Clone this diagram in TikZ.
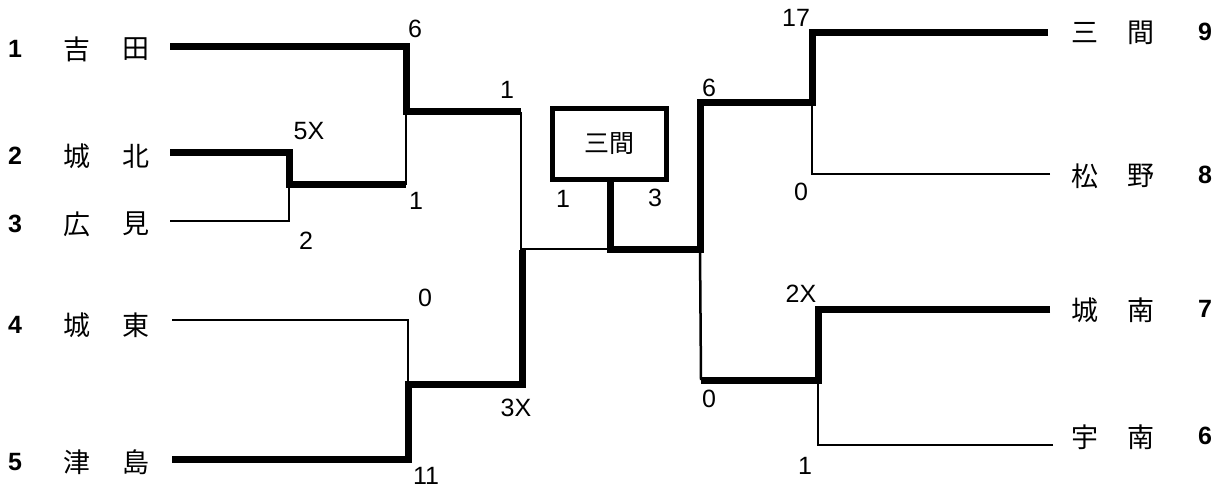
\documentclass[tikz,border=0pt]{standalone}
\usepackage{fontspec}
\setmainfont{Liberation Sans}
\newfontfamily\cjk{Noto Sans CJK JP}
\begin{document}
\begin{tikzpicture}[x=1pt,y=-1pt,
  win/.style={line width=7pt,line join=miter},
  lose/.style={line width=2.5pt,line join=miter},
  seed/.style={font=\bfseries\fontsize{25}{27}\selectfont,inner sep=0pt},
  kanji/.style={font=\cjk\fontsize{27}{29}\selectfont,inner sep=0pt},
  score/.style={font=\fontsize{25}{27}\selectfont,inner sep=0pt},
  champ/.style={draw,line width=5pt,minimum width=114pt,minimum height=71pt,inner sep=0pt,font=\cjk\fontsize{25}{27}\selectfont}]
\useasboundingbox (0,0) rectangle (1231,489);
% left teams
\node[seed] (n1) at (15,49) {1};
\node[kanji] (a1) at (77,49) {吉}; \node[kanji] (b1) at (136,49) {田};
\node[seed] (n2) at (15,156) {2};
\node[kanji] (a2) at (77,156) {城}; \node[kanji] (b2) at (136,156) {北};
\node[seed] (n3) at (15,224) {3};
\node[kanji] (a3) at (77,224) {広}; \node[kanji] (b3) at (136,224) {見};
\node[seed] (n4) at (15,325) {4};
\node[kanji] (a4) at (77,325) {城}; \node[kanji] (b4) at (136,325) {東};
\node[seed] (n5) at (15,462) {5};
\node[kanji] (a5) at (77,462) {津}; \node[kanji] (b5) at (136,462) {島};
% right teams
\node[kanji] (a9) at (1085,33) {三}; \node[kanji] (b9) at (1141,33) {間}; \node[seed] (n9) at (1205,32) {9};
\node[kanji] (a8) at (1085,176) {松}; \node[kanji] (b8) at (1141,176) {野}; \node[seed] (n8) at (1205,175) {8};
\node[kanji] (a7) at (1085,310) {城}; \node[kanji] (b7) at (1141,310) {南}; \node[seed] (n7) at (1205,309) {7};
\node[kanji] (a6) at (1085,437) {宇}; \node[kanji] (b6) at (1141,437) {南}; \node[seed] (n6) at (1205,436) {6};
% champion box
\node[champ] (box) at (609,144) {三間};
% line start coordinates
\coordinate (s1) at (170,47);
\coordinate (s2) at (170,153);
\coordinate (s3) at (170,221);
\coordinate (s4) at (172,320);
\coordinate (s5) at (172,459);
\coordinate (s9) at (1048,33);
\coordinate (s8) at (1050,174);
\coordinate (s7) at (1050,309);
\coordinate (s6) at (1053,445);
% junctions
\coordinate (j23) at (289,185);
\coordinate (j123) at (406,112);
\coordinate (j123e) at (521,112);
\coordinate (j45) at (408,384);
\coordinate (j45e) at (522,384);
\coordinate (jl) at (522,250);
\coordinate (jc) at (610,249);
\coordinate (j89) at (812,103);
\coordinate (j89e) at (700,103);
\coordinate (j67) at (818,380);
\coordinate (j67e) at (701,380);
\coordinate (jr) at (700,249);
% losing lines
\draw[lose] (s3) -| (j23);
\draw[lose] (406,185) -- (j123);
\draw[lose] (s4) -| (j45);
\draw[lose] (j123e) |- (jc);
\draw[lose] (s8) -| (j89);
\draw[lose] (s6) -| (j67);
\draw[lose] (j67e) -- (jr);
% winning lines
\draw[win] (s1) -| (j123) -- (j123e);
\draw[win] (s2) -| (j23) -- (406,185);
\draw[win] (s5) -| (j45) -- (j45e) -- (jl);
\draw[win] (s9) -| (j89) -- (j89e) -- (jr) -- (jc) -- (box.south -| jc);
\draw[win] (s7) -| (j67) -- (j67e);
% scores
\node[score] at (415,29) {6};
\node[score] at (416,201) {1};
\node[score] at (309,131) {5X};
\node[score] at (306,241) {2};
\node[score] at (507,90) {1};
\node[score] at (425,298) {0};
\node[score] at (426,476) {11};
\node[score] at (516,408) {3X};
\node[score] at (563,199) {1};
\node[score] at (655,198) {3};
\node[score] at (709,88) {6};
\node[score] at (796,18) {17};
\node[score] at (801,192) {0};
\node[score] at (709,399) {0};
\node[score] at (801,294) {2X};
\node[score] at (805,466) {1};
\end{tikzpicture}
\end{document}
